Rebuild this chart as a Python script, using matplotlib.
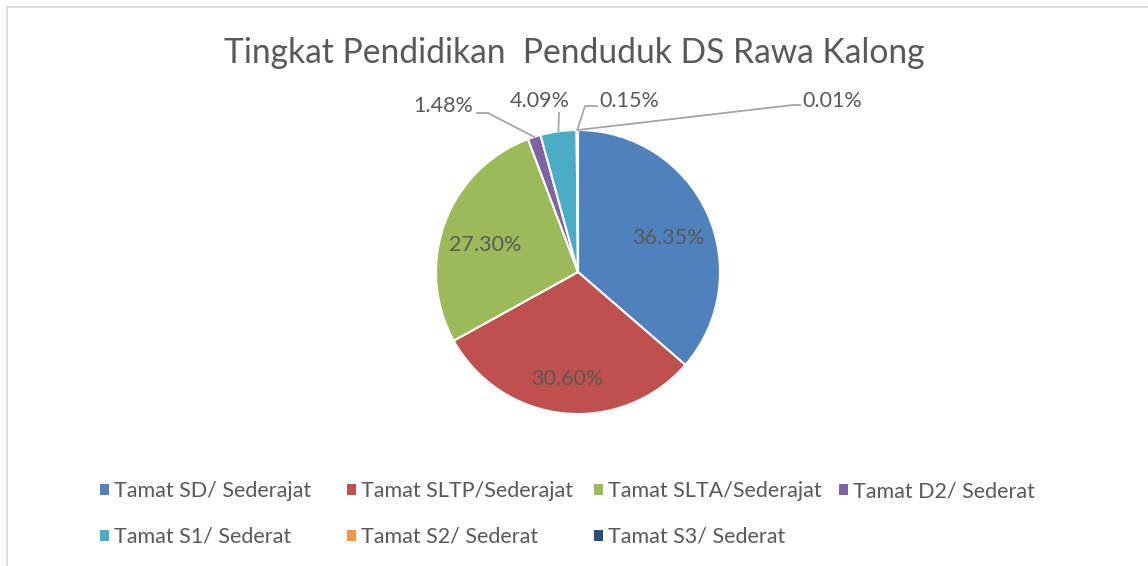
import numpy as np
import matplotlib
matplotlib.use("Agg")
import matplotlib.pyplot as plt
from matplotlib.patches import Patch, Rectangle

plt.rcParams["font.family"] = ["Lato", "DejaVu Sans"]

categories = ["Tamat SD/ Sederajat", "Tamat SLTP/Sederajat", "Tamat SLTA/Sederajat",
              "Tamat D2/ Sederat", "Tamat S1/ Sederat", "Tamat S2/ Sederat", "Tamat S3/ Sederat"]
values = [36.35, 30.60, 27.30, 1.48, 4.09, 0.15, 0.01]
title = "Tingkat Pendidikan  Penduduk DS Rawa Kalong"

colors = ["#4F81BD", "#C0504D", "#9BBB59", "#8064A2", "#4BACC6", "#F79646", "#2C4D75"]
txt_color = "#595959"

W, H = 1148, 566
fig = plt.figure(figsize=(W / 100, H / 100), dpi=100)

# chart border (only top/left visible in the crop)
fig.patches.append(Rectangle((6.5 / W, -0.1), 1.2, 1.1 - 6.5 / H, transform=fig.transFigure,
                             fill=False, edgecolor="#D9D9D9", linewidth=1.2))

cx, cy, r = 578, 272, 142
ax = fig.add_axes([(cx - r) / W, (H - cy - r) / H, 2 * r / W, 2 * r / H])
wedges, _ = ax.pie(values, colors=colors, startangle=90, counterclock=False,
                   wedgeprops=dict(edgecolor="white", linewidth=1.5))
ax.set_xlim(-1, 1)
ax.set_ylim(-1, 1)
ax.set_aspect("equal")
ax.axis("off")

fig.text(0.5, 1 - 53 / H, title, ha="center", va="center", fontsize=24.2, color=txt_color)

def px(x, y):
    return ((x - cx) / r, (cy - y) / r)

# outer label layout: text pos, leader knee points (pixel coords)
outer = {
    3: ((443, 106), [(477, 113), (488, 113)]),
    4: ((540, 101), [(559, 113)]),
    5: ((629, 101), [(597, 106), (585, 106)]),
    6: ((832, 101), [(800, 105), (793, 105)]),
}

for i, (w, v) in enumerate(zip(wedges, values)):
    mid = np.deg2rad((w.theta1 + w.theta2) / 2)
    lab = f"{v:.2f}%"
    if i in outer:
        tp, knees = outer[i]
        tx, ty = px(*tp)
        ax.text(tx, ty, lab, ha="center", va="center", fontsize=15.5, color=txt_color)
        pts = [px(*k) for k in knees] + [(np.cos(mid), np.sin(mid))]
        xs, ys = zip(*pts)
        ax.plot(xs, ys, color="#A6A6A6", lw=1.3, clip_on=False)
    else:
        ax.text(0.7 * np.cos(mid), 0.7 * np.sin(mid) - 0.055, lab, ha="center", va="center",
                fontsize=15.5, color=txt_color)

# legend: 4 columns, row-major order, fixed column pitch like Excel
handles = [Patch(facecolor=c, edgecolor="none") for c in colors]
col_x = [101, 348, 595, 840]
for c in range(4):
    idx = [k for k in range(len(categories)) if k % 4 == c]
    leg = fig.legend([handles[k] for k in idx], [categories[k] for k in idx],
                     loc="upper left", bbox_to_anchor=((col_x[c] - 1) / W, 1 - 481 / H),
                     frameon=False, fontsize=15.5, labelcolor=txt_color,
                     handlelength=0.4, handleheight=0.4, handletextpad=0.25,
                     labelspacing=1.2, borderpad=0, borderaxespad=0)

fig.savefig("out.png", dpi=100)
